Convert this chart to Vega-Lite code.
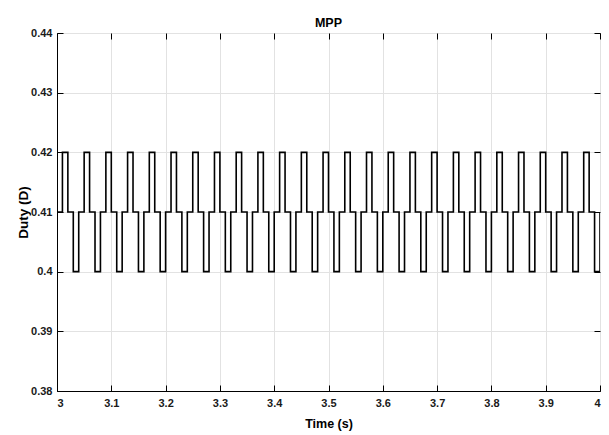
{
  "$schema": "https://vega.github.io/schema/vega-lite/v6.json",
  "width": 543,
  "height": 358,
  "autosize": {"type": "none"},
  "padding": {"left": 57, "top": 33, "right": 9, "bottom": 44},
  "background": "white",
  "title": {"text": "MPP", "font": "Liberation Sans, Arial, sans-serif", "fontSize": 12.5, "fontWeight": "bold", "offset": -2, "color": "black"},
  "config": {
    "view": {"stroke": "black", "strokeWidth": 1},
    "axis": {
      "labelFont": "Liberation Sans, Arial, sans-serif",
      "labelFontSize": 11,
      "labelFontWeight": "bold",
      "labelColor": "#1a1a1a",
      "titleColor": "black",
      "domainColor": "black",
      "tickColor": "black",
      "gridColor": "#e2e2e2",
      "gridWidth": 1
    }
  },
  "data": {"values": [
    {"t": 3.00, "d": 0.40},
    {"t": 3.00, "d": 0.41}, {"t": 3.01, "d": 0.42}, {"t": 3.02, "d": 0.41}, {"t": 3.03, "d": 0.40},
    {"t": 3.04, "d": 0.41}, {"t": 3.05, "d": 0.42}, {"t": 3.06, "d": 0.41}, {"t": 3.07, "d": 0.40},
    {"t": 3.08, "d": 0.41}, {"t": 3.09, "d": 0.42}, {"t": 3.10, "d": 0.41}, {"t": 3.11, "d": 0.40},
    {"t": 3.12, "d": 0.41}, {"t": 3.13, "d": 0.42}, {"t": 3.14, "d": 0.41}, {"t": 3.15, "d": 0.40},
    {"t": 3.16, "d": 0.41}, {"t": 3.17, "d": 0.42}, {"t": 3.18, "d": 0.41}, {"t": 3.19, "d": 0.40},
    {"t": 3.20, "d": 0.41}, {"t": 3.21, "d": 0.42}, {"t": 3.22, "d": 0.41}, {"t": 3.23, "d": 0.40},
    {"t": 3.24, "d": 0.41}, {"t": 3.25, "d": 0.42}, {"t": 3.26, "d": 0.41}, {"t": 3.27, "d": 0.40},
    {"t": 3.28, "d": 0.41}, {"t": 3.29, "d": 0.42}, {"t": 3.30, "d": 0.41}, {"t": 3.31, "d": 0.40},
    {"t": 3.32, "d": 0.41}, {"t": 3.33, "d": 0.42}, {"t": 3.34, "d": 0.41}, {"t": 3.35, "d": 0.40},
    {"t": 3.36, "d": 0.41}, {"t": 3.37, "d": 0.42}, {"t": 3.38, "d": 0.41}, {"t": 3.39, "d": 0.40},
    {"t": 3.40, "d": 0.41}, {"t": 3.41, "d": 0.42}, {"t": 3.42, "d": 0.41}, {"t": 3.43, "d": 0.40},
    {"t": 3.44, "d": 0.41}, {"t": 3.45, "d": 0.42}, {"t": 3.46, "d": 0.41}, {"t": 3.47, "d": 0.40},
    {"t": 3.48, "d": 0.41}, {"t": 3.49, "d": 0.42}, {"t": 3.50, "d": 0.41}, {"t": 3.51, "d": 0.40},
    {"t": 3.52, "d": 0.41}, {"t": 3.53, "d": 0.42}, {"t": 3.54, "d": 0.41}, {"t": 3.55, "d": 0.40},
    {"t": 3.56, "d": 0.41}, {"t": 3.57, "d": 0.42}, {"t": 3.58, "d": 0.41}, {"t": 3.59, "d": 0.40},
    {"t": 3.60, "d": 0.41}, {"t": 3.61, "d": 0.42}, {"t": 3.62, "d": 0.41}, {"t": 3.63, "d": 0.40},
    {"t": 3.64, "d": 0.41}, {"t": 3.65, "d": 0.42}, {"t": 3.66, "d": 0.41}, {"t": 3.67, "d": 0.40},
    {"t": 3.68, "d": 0.41}, {"t": 3.69, "d": 0.42}, {"t": 3.70, "d": 0.41}, {"t": 3.71, "d": 0.40},
    {"t": 3.72, "d": 0.41}, {"t": 3.73, "d": 0.42}, {"t": 3.74, "d": 0.41}, {"t": 3.75, "d": 0.40},
    {"t": 3.76, "d": 0.41}, {"t": 3.77, "d": 0.42}, {"t": 3.78, "d": 0.41}, {"t": 3.79, "d": 0.40},
    {"t": 3.80, "d": 0.41}, {"t": 3.81, "d": 0.42}, {"t": 3.82, "d": 0.41}, {"t": 3.83, "d": 0.40},
    {"t": 3.84, "d": 0.41}, {"t": 3.85, "d": 0.42}, {"t": 3.86, "d": 0.41}, {"t": 3.87, "d": 0.40},
    {"t": 3.88, "d": 0.41}, {"t": 3.89, "d": 0.42}, {"t": 3.90, "d": 0.41}, {"t": 3.91, "d": 0.40},
    {"t": 3.92, "d": 0.41}, {"t": 3.93, "d": 0.42}, {"t": 3.94, "d": 0.41}, {"t": 3.95, "d": 0.40},
    {"t": 3.96, "d": 0.41}, {"t": 3.97, "d": 0.42}, {"t": 3.98, "d": 0.41}, {"t": 3.99, "d": 0.40},
    {"t": 4.00, "d": 0.41}
  ]},
  "layer": [
    {
      "mark": {"type": "line", "interpolate": "step-after", "color": "black", "strokeWidth": 1.6, "clip": true},
      "encoding": {
        "x": {
          "field": "t", "type": "quantitative",
          "scale": {"domain": [3, 4], "nice": false, "zero": false},
          "axis": {
            "orient": "bottom",
            "values": [3, 3.1, 3.2, 3.3, 3.4, 3.5, 3.6, 3.7, 3.8, 3.9, 4],
            "format": ".1~f",
            "grid": true,
            "tickSize": -6,
            "labelPadding": 12,
            "title": "Time (s)",
            "titleFont": "Liberation Sans, Arial, sans-serif",
            "titleFontSize": 12.5,
            "titleFontWeight": "bold",
            "titlePadding": 9
          }
        },
        "y": {
          "field": "d", "type": "quantitative",
          "scale": {"domain": [0.38, 0.44], "nice": false, "zero": false},
          "axis": {
            "orient": "left",
            "values": [0.38, 0.39, 0.4, 0.41, 0.42, 0.43, 0.44],
            "format": "~g",
            "grid": true,
            "tickSize": -6,
            "labelPadding": 11,
            "title": "Duty (D)",
            "titleFont": "Liberation Sans, Arial, sans-serif",
            "titleFontSize": 13.5,
            "titleFontWeight": "bold",
            "titlePadding": 0
          }
        },
        "order": {"value": null}
      }
    },
    {
      "mark": {"type": "line", "strokeOpacity": 0},
      "encoding": {
        "x": {
          "field": "t", "type": "quantitative",
          "scale": {"domain": [3, 4], "nice": false, "zero": false},
          "axis": {
            "orient": "top",
            "values": [3, 3.1, 3.2, 3.3, 3.4, 3.5, 3.6, 3.7, 3.8, 3.9, 4],
            "labels": false, "grid": false, "domain": false, "tickSize": -6, "title": null
          }
        },
        "y": {
          "field": "d", "type": "quantitative",
          "scale": {"domain": [0.38, 0.44], "nice": false, "zero": false},
          "axis": {
            "orient": "right",
            "values": [0.38, 0.39, 0.4, 0.41, 0.42, 0.43, 0.44],
            "labels": false, "grid": false, "domain": false, "tickSize": -6, "title": null
          }
        },
        "order": {"value": null}
      }
    }
  ],
  "resolve": {"axis": {"x": "independent", "y": "independent"}}
}
